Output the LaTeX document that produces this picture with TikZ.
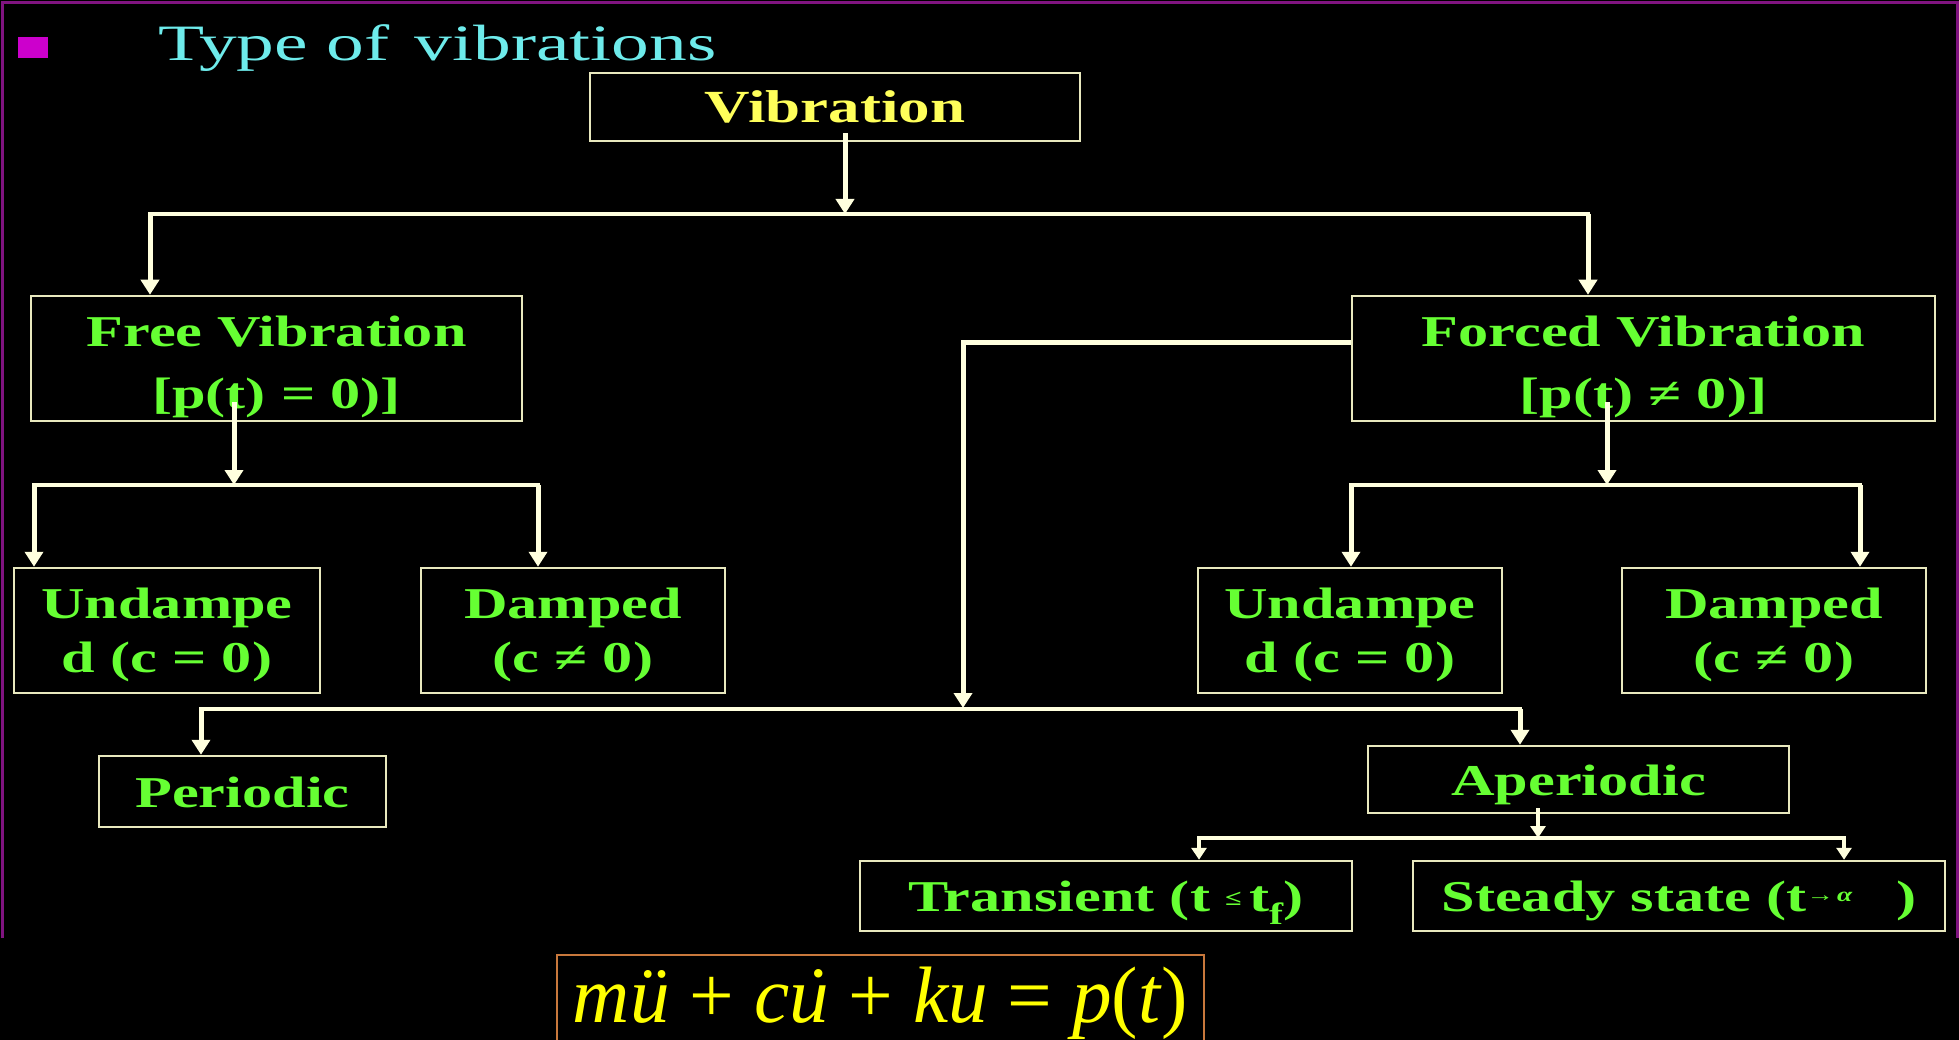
\documentclass[tikz,border=0pt]{standalone}
\usepackage{fontspec}
\usepackage{graphicx}
\setmainfont{Liberation Serif}
\newfontfamily\boxfont[FakeStretch=1.37]{Liberation Serif}
\newfontfamily\titlefont[FakeStretch=1.48]{Liberation Serif}
\usetikzlibrary{arrows.meta,calc}
\definecolor{boxline}{RGB}{232,232,190}
\definecolor{arrline}{RGB}{255,255,222}
\definecolor{txtgreen}{RGB}{102,255,51}
\definecolor{txtyellow}{RGB}{255,255,90}
\definecolor{titlecyan}{RGB}{110,235,235}
\definecolor{bulletmag}{RGB}{204,0,204}
\definecolor{framepurple}{RGB}{128,20,128}
\definecolor{eqyellow}{RGB}{255,255,0}
\definecolor{eqbox}{RGB}{200,120,60}
\newcommand{\myudot}{\ooalign{u\cr\hidewidth\kern0.12em˙\hidewidth\cr}}
\begin{document}
\begin{tikzpicture}[x=1pt,y=-1pt,
  vbox/.style={draw=boxline, line width=2.5pt, inner sep=0pt, align=center,
    text=txtgreen, font=\boxfont\bfseries\fontsize{44}{62}\selectfont},
  vboxs/.style={vbox, font=\boxfont\bfseries\fontsize{44}{54}\selectfont},
  onel/.style={vbox, text height=31pt, text depth=0pt},
  conn/.style={draw=arrline, line width=5pt},
  bus/.style={draw=arrline, line width=3.5pt, line cap=rect},
  arr/.style={conn, -{Triangle[width=18pt,length=15pt]}},
  arrs/.style={conn, line width=4pt, -{Triangle[width=15pt,length=12pt]}},
]
\fill[black] (0,0) rectangle (1959,1040);
\useasboundingbox (0,0) rectangle (1959,1040);
\clip (0,0) rectangle (1959,1040);
\draw[framepurple, line width=3pt] (2,938) -- (2,3) -- (1957,3) -- (1957,938);
\fill[bulletmag] (18,37) rectangle (48,58);
\node[anchor=base west, text=titlecyan, inner sep=0pt,
  font=\titlefont\fontsize{51}{51}\selectfont] (title) at (158,61) {Type of\hspace{0.12em} vibrations};

% boxes
\node[vbox, minimum width=490pt, minimum height=68pt, text=txtyellow, text height=31pt, text depth=0pt,
  font=\boxfont\bfseries\fontsize{46}{46}\selectfont] (vib) at (835,107) {Vibration};
\node[vbox, minimum width=491pt, minimum height=125pt] (free) at (276.5,358.5)
  {\rule{0pt}{48pt}Free Vibration\\{[}p(t) = 0)]};
\node[vbox, minimum width=583pt, minimum height=125pt] (forced) at (1643.5,358.5)
  {\rule{0pt}{48pt}Forced Vibration\\{[}p(t) ≠ 0)]};
\node[vboxs, minimum width=306pt, minimum height=125pt] (und1) at (167,630.5)
  {\rule{0pt}{40pt}Undampe\\d (c = 0)};
\node[vboxs, minimum width=304pt, minimum height=125pt] (dam1) at (573,630.5)
  {\rule{0pt}{40pt}Damped\\(c ≠ 0)};
\node[vboxs, minimum width=304pt, minimum height=125pt] (und2) at (1350,630.5)
  {\rule{0pt}{40pt}Undampe\\d (c = 0)};
\node[vboxs, minimum width=304pt, minimum height=125pt] (dam2) at (1774,630.5)
  {\rule{0pt}{40pt}Damped\\(c ≠ 0)};
\node[onel, minimum width=287pt, minimum height=71pt] (per) at (242.5,791.5) {Periodic};
\node[onel, minimum width=421pt, minimum height=67pt] (aper) at (1578.5,779.5) {Aperiodic};
\node[onel, minimum width=492pt, minimum height=70pt] (trans) at (1106,896)
  {Transient (t \raisebox{6pt}{\fontsize{22}{22}\selectfont ≤}\,t\textsubscript{f})};
\node[onel, minimum width=532pt, minimum height=70pt] (steady) at (1679,896)
  {Steady state (t\raisebox{10pt}{\fontsize{20}{20}\selectfont →\,\itshape α}\quad)};
\node[draw=eqbox, line width=2pt, inner sep=0pt, minimum width=647pt, minimum height=100pt,
  text=eqyellow, text height=34pt, text depth=0pt,
  font=\fontsize{80}{80}\selectfont] (eq) at (880.5,1005)
  {\scalebox{0.99}[1]{\textit{m\"u} + \textit{c\myudot} + \textit{ku} = \textit{p}(\textit{t})}};

% connectors
\coordinate (b1) at (845,214);
\coordinate (b1l) at (150,214);
\coordinate (b1r) at (1588,214);
\draw[arr] ([xshift=10pt,yshift=9pt]vib.south) -- (b1);
\draw[bus] (b1l) -- (b1r);
\draw[arr] (b1l) -- (b1l |- free.north);
\draw[arr] (b1r) -- (b1r |- forced.north);

\coordinate (b2) at (234,485);
\coordinate (b2l) at (34,485);
\coordinate (b2r) at (538,485);
\draw[arr] ([xshift=-42.5pt,yshift=20pt]free.south) -- (b2);
\draw[bus] (b2l) -- (b2r);
\draw[arr] (b2l) -- (b2l |- und1.north);
\draw[arr] (b2r) -- (b2r |- dam1.north);

\coordinate (b3) at (1607,485);
\coordinate (b3l) at (1351,485);
\coordinate (b3r) at (1860,485);
\draw[arr] ([xshift=-36.5pt,yshift=20pt]forced.south) -- (b3);
\draw[bus] (b3l) -- (b3r);
\draw[arr] (b3l) -- (b3l |- und2.north);
\draw[arr] (b3r) -- (b3r |- dam2.north);

\coordinate (b4) at (963,708);
\coordinate (b4l) at (201,709);
\coordinate (b4r) at (1520,709);
\draw[arr] ([yshift=15.5pt]forced.west) -| (b4);
\draw[bus] (b4l) -- (b4r);
\draw[arr] (b4l) -- (b4l |- per.north);
\draw[arr] (b4r) -- (b4r |- aper.north);

\coordinate (b5) at (1538,838);
\coordinate (b5l) at (1199,838);
\coordinate (b5r) at (1844,838);
\draw[arrs] ([xshift=-40.5pt,yshift=6pt]aper.south) -- (b5);
\draw[bus] (b5l) -- (b5r);
\draw[arrs] (b5l) -- (b5l |- trans.north);
\draw[arrs] (b5r) -- (b5r |- steady.north);
\end{tikzpicture}
\end{document}
